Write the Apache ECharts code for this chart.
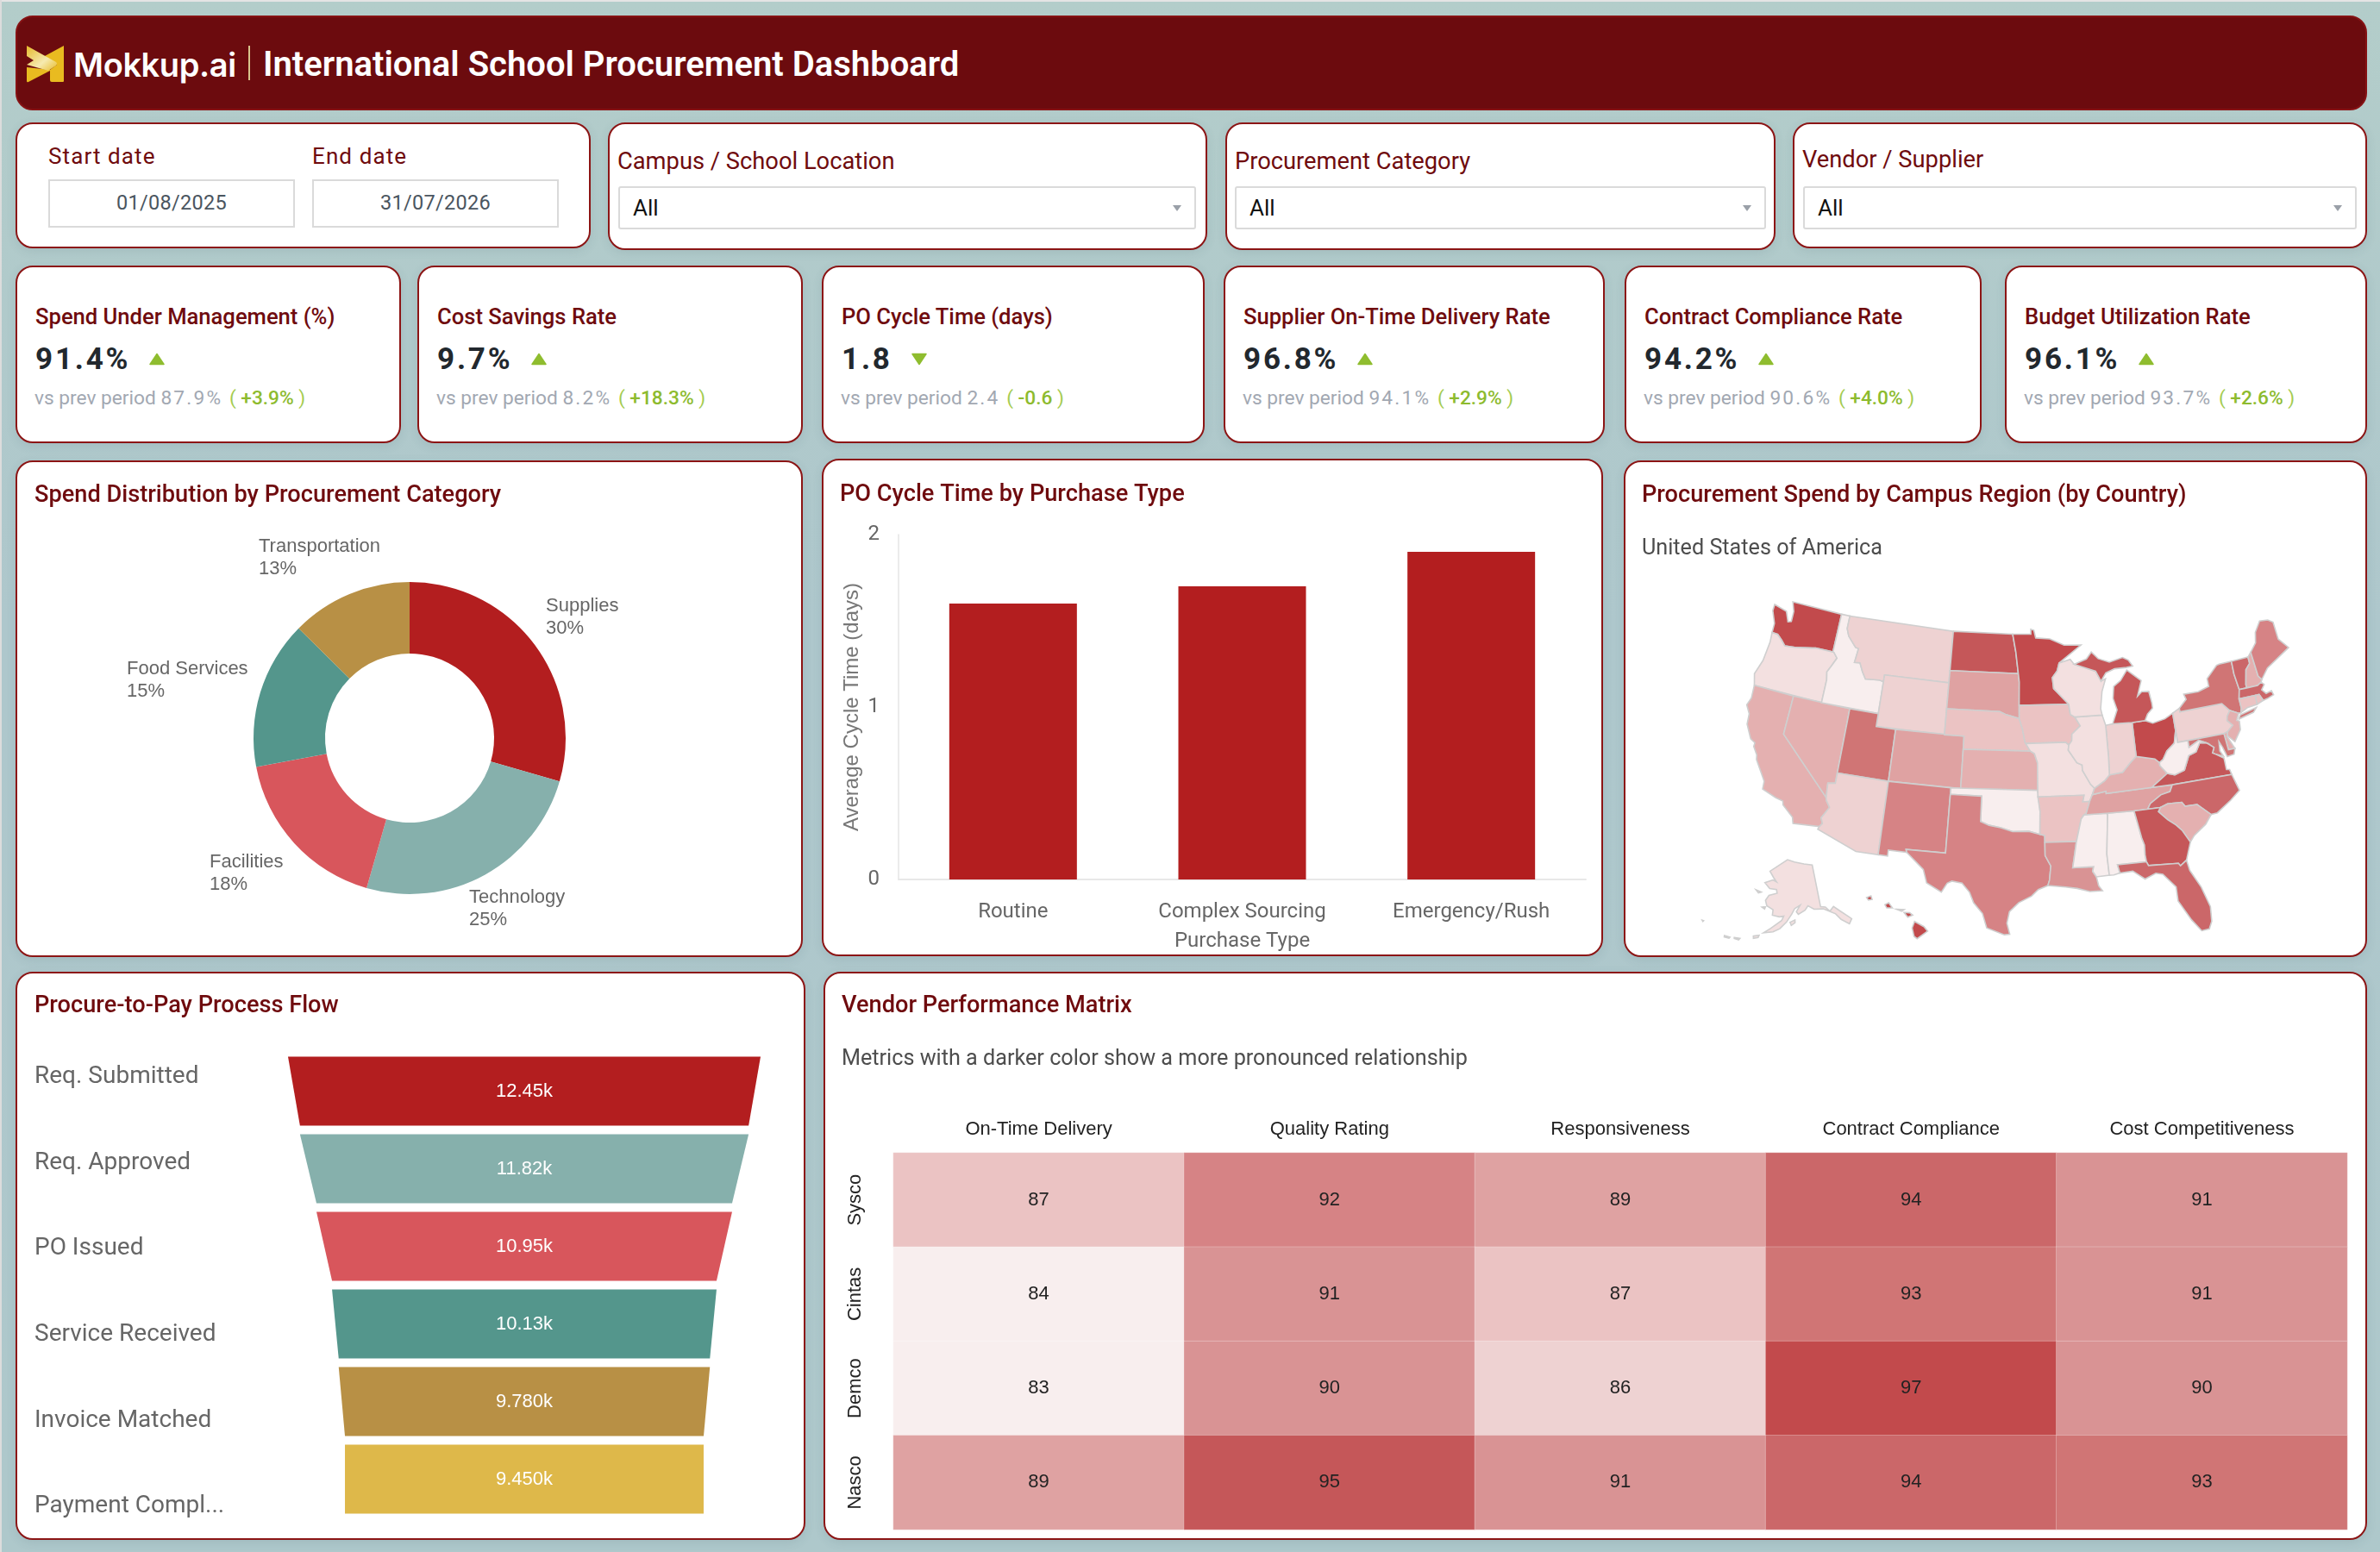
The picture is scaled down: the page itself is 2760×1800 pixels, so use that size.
<!DOCTYPE html>
<html lang="en">
<head>
<meta charset="UTF-8">
<title>International School Procurement Dashboard</title>
<script src="https://cdn.jsdelivr.net/npm/echarts@6/dist/echarts.min.js"></script>
<style>
    html, body { margin: 0; padding: 0; width: 2760px; height: 1800px; overflow: hidden; }
    body { background: linear-gradient(180deg, #b3cdca 0%, #aec7cc 40%, #aec8cb 100%); font-family: Roboto, sans-serif; position: relative; }
    .edge-top { position: absolute; left: 0; top: 0; width: 2760px; height: 2px; background: #e4e4e4; }
    .edge-left { position: absolute; left: 0; top: 0; width: 2px; height: 1800px; background: #dcdcdc; }
    .card { position: absolute; box-sizing: border-box; background: #fff; border: 2.5px solid #8c1515; border-radius: 20px; box-shadow: 0 3px 12px rgba(60, 90, 100, .12); }
    .header { position: absolute; left: 18px; top: 18px; width: 2727px; height: 110px; box-sizing: border-box; background: #6c0b0e; border: 2px solid #861214; border-radius: 20px; }
    .header svg { position: absolute; left: 10px; top: 32px; }
    .brand { position: absolute; left: 65px; top: 31px; font: 600 38px/48px Inter, sans-serif; color: #fff; letter-spacing: -.4px; }
    .divider { position: absolute; left: 268px; top: 33px; width: 2px; height: 40px; background: #d8c48c; }
    .headline { position: absolute; left: 285px; top: 31px; font: 600 40px/48px Roboto, sans-serif; color: #fff; white-space: nowrap; }
    .flabel { position: absolute; color: #6f0b0e; white-space: nowrap; }
    .datebox { position: absolute; box-sizing: border-box; border: 2.5px solid #dadada; top: 208px; width: 286px; height: 56px; text-align: center; font-size: 23.5px; line-height: 51px; color: #4a5560; letter-spacing: .3px; }
    .select { position: absolute; box-sizing: border-box; top: 216px; height: 50px; border: 2px solid #dadada; border-radius: 3px; font-size: 26px; line-height: 46px; padding-left: 15px; color: #111; }
    .select i { position: absolute; right: 15px; top: 20px; width: 0; height: 0; border-left: 5px solid transparent; border-right: 5px solid transparent; border-top: 7px solid #9aa0a8; }
    .kpi-title { position: absolute; top: 42px; font: 500 25.6px/30px Roboto, sans-serif; color: #6f0b0e; white-space: nowrap; }
    .kpi-value { position: absolute; top: 87px; font: 700 35px/40px Roboto, sans-serif; color: #22282e; letter-spacing: 2.8px; white-space: nowrap; }
    .kpi-value svg { margin-left: 22px; vertical-align: 4px; }
    .kpi-prev { position: absolute; top: 137px; font: 400 22.7px/30px Roboto, sans-serif; color: #a2a8b2; white-space: nowrap; }
    .kpi-prev b { font-weight: 400; letter-spacing: 2.2px; }
    .kpi-prev em { font-style: normal; color: #a5cc52; margin-left: 2px; }
    .kpi-prev u { text-decoration: none; color: #8dbb2e; font-weight: 500; }
    #dashboard { position: absolute; left: 0; top: 0; width: 2760px; height: 1800px; }
</style>
</head>
<body>
    <div class="edge-top"></div>
    <div class="edge-left"></div>

    <div class="header">
        <svg width="46" height="44" viewBox="0 0 46 44">
            <defs><linearGradient id="ribbon" x1="0" y1="0" x2="1" y2="1"><stop offset="0" stop-color="#e6b92a"/><stop offset=".6" stop-color="#f6eab0"/><stop offset="1" stop-color="#e8bc2b"/></linearGradient></defs>
            <path d="M44 1 V42 Q44 43 43 43 H30 Q28 43 28 41 V29 L36 23 L20 14 Z" fill="#e9bb20"/>
            <path d="M1 26 L28 29 V30 L3 43 Q1 44 1 42 Z" fill="#e9bb20"/>
            <path d="M1 1 L35 20 Q37 22 35 24 L26 30 L1 23 L9 18 L1 13 Z" fill="url(#ribbon)"/>
        </svg>
        <div class="brand">Mokkup.ai</div>
        <div class="divider"></div>
        <div class="headline">International School Procurement Dashboard</div>
    </div>

    <div class="card" style="left:18px;top:142px;width:667px;height:146px"></div>
    <div class="flabel" style="left:56px;top:165px;font-size:26px;line-height:32px;letter-spacing:1.1px">Start date</div>
    <div class="flabel" style="left:362px;top:165px;font-size:26px;line-height:32px;letter-spacing:1.1px">End date</div>
    <div class="datebox" style="left:56px">01/08/2025</div>
    <div class="datebox" style="left:362px">31/07/2026</div>

    <div class="card" style="left:705px;top:142px;width:695px;height:148px"></div>
    <div class="flabel" style="left:716px;top:170px;font-size:27.3px;line-height:34px">Campus / School Location</div>
    <div class="select" style="left:717px;width:670px">All<i></i></div>

    <div class="card" style="left:1421px;top:142px;width:638px;height:148px"></div>
    <div class="flabel" style="left:1432px;top:170px;font-size:27.3px;line-height:34px">Procurement Category</div>
    <div class="select" style="left:1432px;width:616px">All<i></i></div>

    <div class="card" style="left:2079px;top:142px;width:666px;height:146px"></div>
    <div class="flabel" style="left:2090px;top:168px;font-size:27.3px;line-height:34px">Vendor / Supplier</div>
    <div class="select" style="left:2091px;width:642px">All<i></i></div>

    <div class="card" style="left:18px;top:534px;width:913px;height:576px"></div>
    <div class="card" style="left:953px;top:532px;width:906px;height:577px"></div>
    <div class="card" style="left:1883px;top:534px;width:862px;height:576px"></div>
    <div class="card" style="left:18px;top:1127px;width:916px;height:659px"></div>
    <div class="card" style="left:955px;top:1127px;width:1790px;height:659px"></div>

    <div id="dashboard"></div>

    <script>
        // kpi cards
        var kpiTitles = ['Spend Under Management (%)', 'Cost Savings Rate', 'PO Cycle Time (days)', 'Supplier On-Time Delivery Rate', 'Contract Compliance Rate', 'Budget Utilization Rate'];
        var kpiValues = ['91.4%', '9.7%', '1.8', '96.8%', '94.2%', '96.1%'];
        var kpiPrev = ['87.9%', '8.2%', '2.4', '94.1%', '90.6%', '93.7%'];
        var kpiDelta = ['+3.9%', '+18.3%', '-0.6', '+2.9%', '+4.0%', '+2.6%'];

        // charts
        var spendCategories = ['Supplies', 'Technology', 'Facilities', 'Food Services', 'Transportation'];
        var spendShares = [29.5, 25, 17.6, 15.4, 12.6];
        var purchaseTypes = ['Routine', 'Complex Sourcing', 'Emergency/Rush'];
        var cycleDays = [1.6, 1.7, 1.9];
        var flowStages = ['Req. Submitted', 'Req. Approved', 'PO Issued', 'Service Received', 'Invoice Matched', 'Payment Completed'];
        var flowCounts = [12450, 11820, 10950, 10130, 9780, 9450];
        var vendors = ['Sysco', 'Cintas', 'Demco', 'Nasco'];
        var metrics = ['On-Time Delivery', 'Quality Rating', 'Responsiveness', 'Contract Compliance', 'Cost Competitiveness'];
        var syscoScores = [87, 92, 89, 94, 91];
        var cintasScores = [84, 91, 87, 93, 91];
        var demcoScores = [83, 90, 86, 97, 90];
        var nascoScores = [89, 95, 91, 94, 93];
        var stateNames = ['WA','OR','CA','NV','ID','MT','WY','UT','CO','AZ','NM','ND','SD','NE','KS','OK','TX','MN','IA','MO','AR','LA','MS','AL','TN','KY','OH','IN','IL','WI','MI','PA','NY','VT','NH','ME','MA','RI','CT','NJ','DE','MD','VA','WV','NC','SC','GA','FL','AK','HI'];
        var stateScores = [97,85,88,88,83,86,86,93,89,86,92,95,89,87,88,83,92,97,87,85,87,91,84,83,89,88,97,86,85,85,95,86,93,94,88,92,94,87,87,88,88,93,95,83,94,88,95,94,85,97];

        // simplified state outlines, lon/lat
        var stateOutlines = {
            WA: [[[-124.7,48.4],[-123.2,48.15],[-122.7,47.4],[-122.35,47.5],[-122.4,48.3],[-122.8,49],[-117.03,49],[-117.04,46],[-118.98,46],[-119.3,45.93],[-121.2,45.65],[-122.3,45.55],[-122.8,45.9],[-123.4,46.25],[-124.05,46.27],[-124.1,47],[-124.7,47.9]]],
            OR: [[[-124.05,46.27],[-123.4,46.25],[-122.8,45.9],[-122.3,45.55],[-121.2,45.65],[-119.3,45.93],[-118.98,46],[-117.04,46],[-116.92,45.99],[-116.46,45.6],[-116.85,44.95],[-117.2,44.4],[-117.03,43.8],[-117.03,42],[-124.2,42],[-124.55,42.85],[-124.1,44],[-123.95,45.5]]],
            CA: [[[-124.2,42],[-120,42],[-120,39],[-114.63,35],[-114.57,34.8],[-114.14,34.3],[-114.72,33.4],[-114.5,33],[-114.72,32.72],[-117.12,32.53],[-117.3,33],[-118.4,33.75],[-118.5,34.03],[-119.2,34.15],[-120.6,34.55],[-120.65,35.15],[-121.9,36.6],[-122,36.95],[-122.5,37.5],[-122.5,37.8],[-123,38],[-123.75,39],[-123.85,39.8],[-124.35,40.4],[-124.1,41]]],
            NV: [[[-120,42],[-114.04,42],[-114.04,36.2],[-114.74,36.1],[-114.63,35],[-120,39]]],
            ID: [[[-117.03,49],[-116.05,49],[-116.05,48],[-115.7,47.45],[-114.7,46.7],[-114.35,46.65],[-114.5,45.55],[-113.9,45.6],[-113.45,44.95],[-113,44.45],[-111.5,44.55],[-111.05,44.48],[-111.05,42],[-117.03,42],[-117.03,43.8],[-117.2,44.4],[-116.85,44.95],[-116.46,45.6],[-116.92,45.99],[-117.04,46]]],
            MT: [[[-116.05,49],[-104.05,49],[-104.05,45],[-111.05,45],[-111.05,44.48],[-111.5,44.55],[-113,44.45],[-113.45,44.95],[-113.9,45.6],[-114.5,45.55],[-114.35,46.65],[-114.7,46.7],[-115.7,47.45],[-116.05,48]]],
            WY: [[[-111.05,45],[-104.05,45],[-104.05,41],[-111.05,41]]],
            UT: [[[-114.04,42],[-111.05,42],[-111.05,41],[-109.05,41],[-109.05,37],[-114.04,37]]],
            CO: [[[-109.05,41],[-102.05,41],[-102.05,37],[-109.05,37]]],
            AZ: [[[-114.04,37],[-109.05,37],[-109.05,31.33],[-111.07,31.33],[-114.81,32.5],[-114.72,32.72],[-114.5,33],[-114.72,33.4],[-114.14,34.3],[-114.57,34.8],[-114.63,35],[-114.74,36.1],[-114.04,36.2]]],
            NM: [[[-109.05,37],[-103,37],[-103.04,32],[-106.62,32],[-106.53,31.78],[-108.2,31.78],[-108.2,31.33],[-109.05,31.33]]],
            ND: [[[-104.05,49],[-97.23,49],[-96.85,47.6],[-96.56,45.94],[-104.05,45.94]]],
            SD: [[[-104.05,45.94],[-96.56,45.94],[-96.45,45.3],[-96.45,43.5],[-96.44,42.49],[-97.9,42.8],[-98.5,43],[-104.05,43]]],
            NE: [[[-104.05,43],[-98.5,43],[-97.9,42.8],[-96.44,42.49],[-96.1,41.7],[-95.85,40.7],[-95.31,40],[-102.05,40],[-102.05,41],[-104.05,41]]],
            KS: [[[-102.05,40],[-95.31,40],[-94.9,39.8],[-94.61,39.1],[-94.62,37],[-102.05,37]]],
            OK: [[[-103,37],[-94.62,37],[-94.43,35.4],[-94.48,33.64],[-95.5,33.88],[-97,33.85],[-98.1,34.13],[-99.2,34.3],[-100,34.56],[-100,36.5],[-103,36.5]]],
            TX: [[[-106.62,32],[-103.04,32],[-103,36.5],[-100,36.5],[-100,34.56],[-99.2,34.3],[-98.1,34.13],[-97,33.85],[-95.5,33.88],[-94.48,33.64],[-94.04,33.55],[-94.04,32],[-93.55,31.2],[-93.7,30.1],[-93.85,29.7],[-94.7,29.4],[-95.3,28.9],[-96.4,28.4],[-97.2,27.7],[-97.4,26.8],[-97.15,25.95],[-97.6,25.9],[-99.1,26.4],[-99.5,27.5],[-100.3,28.3],[-100.7,29.1],[-101.4,29.77],[-102.3,29.88],[-102.7,29.7],[-103.15,28.98],[-104.5,29.6],[-104.9,30.6],[-106.53,31.78]]],
            MN: [[[-97.23,49],[-95.15,49],[-95.15,49.38],[-94.8,49.3],[-94.6,48.7],[-93,48.6],[-91.4,48.07],[-89.5,48],[-92.05,46.7],[-92.3,46.1],[-92.85,45.6],[-92.75,44.75],[-91.22,43.5],[-96.45,43.5],[-96.45,45.3],[-96.56,45.94],[-96.85,47.6]]],
            IA: [[[-96.45,43.5],[-91.22,43.5],[-91.1,42.7],[-90.65,42.5],[-90.15,41.8],[-91.05,41.2],[-91.1,40.7],[-91.42,40.38],[-91.73,40.61],[-95.77,40.58],[-95.85,40.7],[-96.1,41.7],[-96.44,42.49]]],
            MO: [[[-95.77,40.58],[-91.73,40.61],[-91.42,40.38],[-91.5,40],[-90.7,39],[-90.2,38.8],[-90.2,38.4],[-89.5,37.3],[-89.15,36.98],[-89.4,36.5],[-89.7,36],[-90.37,36],[-90.2,36.5],[-94.62,36.5],[-94.62,37],[-94.61,39.1],[-94.9,39.8],[-95.31,40]]],
            AR: [[[-94.62,36.5],[-90.2,36.5],[-90.37,36],[-89.7,36],[-90.1,35.1],[-90.3,35],[-90.6,34.7],[-91.15,33],[-94.04,33.02],[-94.04,33.55],[-94.48,33.64],[-94.43,35.4]]],
            LA: [[[-94.04,33.02],[-91.15,33],[-91.6,31],[-89.73,31],[-89.85,30.65],[-89.55,30.2],[-89.4,29.5],[-89.1,29.1],[-90.2,29.1],[-91.3,29.4],[-92.3,29.55],[-93.85,29.7],[-93.7,30.1],[-93.55,31.2],[-94.04,32]]],
            MS: [[[-91.15,33],[-90.6,34.7],[-90.3,35],[-88.2,35],[-88.1,34.9],[-88.47,31.9],[-88.4,30.25],[-89.55,30.2],[-89.85,30.65],[-89.73,31],[-91.6,31]]],
            AL: [[[-88.2,35],[-85.6,34.98],[-85.18,32.87],[-85,32.3],[-85.05,31.55],[-85,31],[-87.6,31],[-87.45,30.35],[-88,30.25],[-88.4,30.25],[-88.47,31.9],[-88.1,34.9]]],
            TN: [[[-90.3,35],[-88.2,35],[-85.6,34.98],[-84.32,34.99],[-84,35.4],[-82.9,35.95],[-82,36.1],[-81.68,36.59],[-83.68,36.6],[-88.07,36.5],[-88.07,36.68],[-89.4,36.5],[-89.7,36],[-90.1,35.1]]],
            KY: [[[-89.4,36.5],[-88.07,36.68],[-88.07,36.5],[-83.68,36.6],[-82,37.5],[-82.6,38.17],[-82.6,38.4],[-83,38.73],[-84.8,39.1],[-85.4,38.7],[-86.3,38],[-87.6,37.9],[-88.1,37.5],[-89.15,36.98]]],
            OH: [[[-84.8,41.7],[-83.45,41.73],[-82.7,41.45],[-81.4,41.65],[-80.52,41.98],[-80.52,40.64],[-80.85,39.7],[-81.7,39.2],[-82.2,38.6],[-82.6,38.4],[-83,38.73],[-84.8,39.1]]],
            IN: [[[-87.53,41.7],[-86.8,41.76],[-84.8,41.7],[-84.8,39.1],[-85.4,38.7],[-86.3,38],[-87.6,37.9],[-87.53,39.3]]],
            IL: [[[-90.65,42.5],[-87.8,42.5],[-87.53,41.7],[-87.53,39.3],[-87.6,37.9],[-88.1,37.5],[-89.15,36.98],[-89.5,37.3],[-90.2,38.4],[-90.2,38.8],[-90.7,39],[-91.5,40],[-91.42,40.38],[-91.1,40.7],[-91.05,41.2],[-90.15,41.8]]],
            WI: [[[-92.05,46.7],[-90.8,46.95],[-90.4,46.55],[-88.1,45.9],[-87.6,45.1],[-87.1,45.25],[-87.6,44.3],[-87.9,43],[-87.8,42.5],[-90.65,42.5],[-91.1,42.7],[-91.22,43.5],[-92.75,44.75],[-92.85,45.6],[-92.3,46.1]]],
            MI: [[[-90.4,46.55],[-89,46.9],[-88.4,47.4],[-87.7,46.85],[-86.5,46.5],[-85,46.75],[-84.4,46.5],[-84,46],[-84.7,45.95],[-86,45.95],[-87,45.7],[-87.6,45.1],[-88.1,45.9]],
                [[-86.8,41.76],[-84.8,41.7],[-83.45,41.73],[-83.1,42.2],[-82.5,42.6],[-82.5,43],[-82.65,43.9],[-83.4,43.95],[-83.9,43.65],[-83.3,44.8],[-84.7,45.75],[-85.5,45],[-86.3,44.6],[-86.5,43.7],[-86.2,42.8]]],
            PA: [[[-80.52,41.98],[-79.76,42.27],[-79.76,42],[-75.35,42],[-74.7,41.35],[-75.1,40.95],[-75.2,40.65],[-74.75,40.2],[-75.4,39.8],[-75.8,39.72],[-80.52,39.72],[-80.52,40.64]]],
            NY: [[[-79.76,42],[-79.76,42.27],[-78.9,42.85],[-79.05,43.27],[-77.5,43.25],[-76.3,43.5],[-76.3,44.1],[-75,44.95],[-74.7,45],[-73.35,45],[-73.4,44],[-73.25,42.75],[-73.5,42.05],[-73.5,41.3],[-73.65,41],[-73.9,41],[-74.7,41.35],[-75.35,42]],
                [[-74,40.6],[-73.75,40.85],[-72,41.1],[-72.4,40.8],[-74,40.55]]],
            VT: [[[-73.35,45],[-71.5,45],[-71.5,44.5],[-72.05,44.1],[-72.45,43],[-72.46,42.73],[-73.25,42.75],[-73.4,44]]],
            NH: [[[-71.5,45],[-71.08,45.3],[-70.98,43.4],[-70.7,43.07],[-70.85,42.88],[-71.3,42.7],[-72.46,42.73],[-72.45,43],[-72.05,44.1],[-71.5,44.5]]],
            ME: [[[-71.08,45.3],[-70.3,45.9],[-70,46.7],[-69.2,47.45],[-68.3,47.35],[-67.8,47.07],[-67.8,45.7],[-67,44.85],[-68.5,44.3],[-69.8,43.8],[-70.7,43.07],[-70.98,43.4]]],
            MA: [[[-73.5,42.05],[-73.25,42.75],[-72.46,42.73],[-71.3,42.7],[-70.85,42.88],[-70.6,42.65],[-71,42.3],[-70.65,41.95],[-70.05,42.05],[-69.95,41.7],[-70.65,41.55],[-71.12,41.5],[-71.38,42.02],[-71.8,42.02]]],
            RI: [[[-71.8,42.02],[-71.38,42.02],[-71.12,41.5],[-71.85,41.32]]],
            CT: [[[-73.5,42.05],[-71.8,42.02],[-71.85,41.32],[-72.9,41.25],[-73.65,41],[-73.5,41.3]]],
            NJ: [[[-74.7,41.35],[-73.9,41],[-74.25,40.5],[-74,40.4],[-74.1,39.75],[-74.9,38.95],[-75.5,39.5],[-75.4,39.8],[-74.75,40.2],[-75.2,40.65],[-75.1,40.95]]],
            DE: [[[-75.8,39.72],[-75.4,39.8],[-75.55,39.45],[-75.05,38.45],[-75.7,38.45]]],
            MD: [[[-79.48,39.72],[-75.8,39.72],[-75.7,38.45],[-75.05,38.45],[-75.25,38.03],[-75.95,37.95],[-76.2,38.7],[-76.45,39.2],[-76.55,38.5],[-76.3,38.05],[-77,38.3],[-77.3,38.45],[-77.05,38.85],[-77.7,39.3],[-78.4,39.6],[-79.48,39.2]]],
            VA: [[[-83.68,36.6],[-81.68,36.59],[-75.9,36.55],[-76,36.95],[-76.3,37],[-76.3,37.9],[-77,38.3],[-77.3,38.45],[-77.05,38.85],[-77.7,39.3],[-78.35,39.4],[-78.87,38.77],[-79.65,38.58],[-80.3,37.55],[-81.3,37.3],[-82,37.5]]],
            WV: [[[-80.52,40.64],[-80.52,39.72],[-79.48,39.72],[-79.48,39.2],[-78.4,39.6],[-77.7,39.3],[-78.35,39.4],[-78.87,38.77],[-79.65,38.58],[-80.3,37.55],[-81.3,37.3],[-82,37.5],[-82.6,38.17],[-82.6,38.4],[-82.2,38.6],[-81.7,39.2],[-80.85,39.7]]],
            NC: [[[-84.32,34.99],[-83.1,35],[-82.4,35.2],[-81.05,35.15],[-80.8,34.82],[-79.67,34.8],[-78.55,33.86],[-77.95,33.9],[-76.5,34.65],[-75.5,35.25],[-75.9,36.55],[-81.68,36.59],[-82,36.1],[-82.9,35.95],[-84,35.4]]],
            SC: [[[-83.1,35],[-82.4,35.2],[-81.05,35.15],[-80.8,34.82],[-79.67,34.8],[-78.55,33.86],[-79.2,33.2],[-80.4,32.5],[-80.85,32.05],[-81.4,33],[-81.9,33.5],[-82.6,34],[-83.35,34.7]]],
            GA: [[[-85.6,34.98],[-84.32,34.99],[-83.1,35],[-83.35,34.7],[-82.6,34],[-81.9,33.5],[-81.4,33],[-80.85,32.05],[-81.45,30.72],[-82.05,30.36],[-82.2,30.57],[-84.86,30.7],[-85,31],[-85.05,31.55],[-85,32.3],[-85.18,32.87]]],
            FL: [[[-87.6,31],[-85,31],[-84.86,30.7],[-82.2,30.57],[-82.05,30.36],[-81.45,30.72],[-81.3,29.9],[-80.55,28.5],[-80.05,26.9],[-80.15,25.75],[-80.45,25.2],[-81.1,25.15],[-81.8,26.1],[-82.7,27.7],[-82.7,28.8],[-83.7,29.9],[-84.3,30.05],[-85.3,29.7],[-86.3,30.4],[-87.45,30.35]]],
            AK: [[[-141,69.65],[-141,60.3],[-139,60],[-137.5,58.9],[-135.5,59.7],[-133.5,58.4],[-130,55.9],[-131.5,55],[-134,56.5],[-135.5,58],[-138,59],[-140,59.7],[-144,60],[-146.5,60.9],[-148,60],[-151,59.2],[-151.8,59.8],[-150,61.2],[-152.5,60.5],[-153.8,59.3],[-156,57.5],[-158.5,56],[-161,55.2],[-164.5,54.7],[-162,55.9],[-158,57.8],[-157.2,58.8],[-159,58.6],[-162,58.8],[-162,60],[-165,60.7],[-166,61.8],[-164.8,63],[-161,63.7],[-161.5,64.5],[-165,64.5],[-168,65.6],[-164,66.5],[-162,66.2],[-163.8,67],[-166.5,68.3],[-163,69.5],[-156.5,71.3],[-152,70.8],[-146,70.2]],
                [[-154.5,57.5],[-152.5,58],[-152.5,57.4],[-154,56.8]],
                [[-167,60.2],[-165.5,60.4],[-165.7,59.9]],
                [[-171.5,63.6],[-168.8,63.4],[-170,63.1]],
                [[-168,53.6],[-166,54],[-166.2,53.5],[-167.8,53.1]],
                [[-174.5,52.2],[-172.5,52.4],[-172.8,52],[-174.4,52]],
                [[-178,51.9],[-176,52],[-176.2,51.7],[-177.9,51.6]],
                [[-187.5,52.95],[-187,53],[-187.1,52.8]]],
            HI: [[[-156.05,19.75],[-155.85,20.25],[-155.1,19.85],[-154.8,19.5],[-155.65,18.92],[-155.9,19.1]],
                [[-156.7,20.95],[-156.25,20.93],[-156,20.75],[-156.4,20.58]],
                [[-157.3,21.2],[-156.7,21.17],[-156.9,21.05]],
                [[-158.25,21.55],[-157.95,21.7],[-157.65,21.3],[-158.1,21.3]],
                [[-159.75,22.1],[-159.4,22.23],[-159.3,21.95],[-159.6,21.9]]]
        };

        // page furniture for the kpi row
        var kpiLefts = [18, 484, 953, 1419, 1884, 2325];
        var kpiWidths = [447, 447, 444, 442, 414, 420];
        var arrowUp = '<svg width="18" height="15" viewBox="0 0 18 15"><path d="M9 1.5 L17 13.5 H1 Z" fill="#8fbd2f" stroke="#8fbd2f" stroke-width="1.5" stroke-linejoin="round"/></svg>';
        var arrowDown = '<svg width="18" height="15" viewBox="0 0 18 15"><path d="M9 13.5 L17 1.5 H1 Z" fill="#8fbd2f" stroke="#8fbd2f" stroke-width="1.5" stroke-linejoin="round"/></svg>';
        kpiTitles.forEach(function (t, i) {
            var card = document.createElement('div');
            card.className = 'card';
            card.style.cssText = 'left:' + kpiLefts[i] + 'px;top:308px;width:' + kpiWidths[i] + 'px;height:206px';
            card.innerHTML = '<div class="kpi-title" style="left:21px">' + t + '</div>' +
                '<div class="kpi-value" style="left:21px">' + kpiValues[i] + (kpiDelta[i].charAt(0) === '-' ? arrowDown : arrowUp) + '</div>' +
                '<div class="kpi-prev" style="left:20px">vs prev period <b>' + kpiPrev[i] + '</b> <em>( <u>' + kpiDelta[i] + '</u> )</em></div>';
            document.body.insertBefore(card, document.getElementById('dashboard'));
        });

        // albers usa style composite, alaska and hawaii as insets
        function conic(rot, cLon, cLat, p0, p1) {
            var rad = Math.PI / 180;
            var s0 = Math.sin(p0 * rad);
            var n = (s0 + Math.sin(p1 * rad)) / 2;
            var c = 1 + s0 * (2 * n - s0);
            var r0 = Math.sqrt(c) / n;
            function raw(lon, lat) {
                var r = Math.sqrt(c - 2 * n * Math.sin(lat * rad)) / n;
                var a = lon * rad * n;
                return [r * Math.sin(a), r0 - r * Math.cos(a)];
            }
            var o = raw(cLon, cLat);
            return {
                fwd: function (lon, lat) { var p = raw(lon + rot, lat); return [p[0] - o[0], -(p[1] - o[1])]; },
                inv: function (x, y) {
                    var px = x + o[0], py = r0 - (o[1] - y);
                    var lam = Math.atan2(px, py) / n;
                    var phi = Math.asin((c - (px * px + py * py) * n * n) / (2 * n));
                    return [lam / rad - rot, phi / rad];
                }
            };
        }
        var lower48 = conic(96, -0.6, 38.7, 29.5, 45.5);
        var alaska = conic(154, -2, 58.5, 55, 65);
        var hawaii = conic(157, -3, 19.9, 8, 18);
        var usProjection = {
            project: function (pt) {
                var k = 1000, p;
                if (pt[1] >= 50 && pt[0] < -129) {
                    p = alaska.fwd(pt[0], pt[1]);
                    return [k * .35 * p[0] - .307 * k, k * .35 * p[1] + .201 * k];
                }
                if (pt[1] < 25 && pt[0] < -150) {
                    p = hawaii.fwd(pt[0], pt[1]);
                    return [k * p[0] - .205 * k, k * p[1] + .212 * k];
                }
                p = lower48.fwd(pt[0], pt[1]);
                return [k * p[0], k * p[1]];
            },
            unproject: function (pt) { return lower48.inv(pt[0] / 1000, pt[1] / 1000); }
        };
        echarts.registerMap('usa', {
            type: 'FeatureCollection',
            features: stateNames.map(function (s) {
                return { type: 'Feature', properties: { name: s }, geometry: { type: 'MultiPolygon', coordinates: stateOutlines[s].map(function (ring) { return [ring]; }) } };
            })
        });

        function chartTitle(text, left, top) {
            return { text: text, left: left, top: top, padding: 0, textStyle: { fontFamily: 'Roboto', fontWeight: 500, fontSize: 27.2, color: '#6f0b0e' } };
        }
        function chartNote(text, left, top) {
            return { text: text, left: left, top: top, padding: 0, textStyle: { fontFamily: 'Roboto', fontWeight: 400, fontSize: 25.2, color: '#4d4d4d' } };
        }

        var heatData = [];
        [syscoScores, cintasScores, demcoScores, nascoScores].forEach(function (row, r) {
            row.forEach(function (v, c) { heatData.push([c, r, v]); });
        });

        var spendColors = ['#b31e1f', '#86b0ac', '#d8565c', '#54968c', '#b89045'];
        var flowColors = ['#b31e1f', '#86b0ac', '#d8565c', '#54968c', '#b89045', '#deb84a'];
        var flowData = flowStages.map(function (s, i) {
            return { name: s, value: flowCounts[i], itemStyle: { color: flowColors[i] } };
        });
        // zero height closing piece keeps the last funnel step straight sided
        flowData.push({ name: 'end', value: flowCounts[flowCounts.length - 1], itemStyle: { opacity: 0, height: 0 }, label: { show: false } });

        var spendLabelSpots = [[633, 716], [544, 1054], [243, 1013], [147, 789], [300, 647]];
        // one colour stop per score, 83 to 97
        var scoreRamp = ['#f8eeee', '#f8eeee', '#f3e0e0', '#eed2d2', '#ebc3c3', '#e4b0b0', '#dfa2a2', '#d99394', '#d99394', '#d68385', '#d07575', '#cb6769', '#c55759', '#c35050', '#c24a4c'];

        var chart = echarts.init(document.getElementById('dashboard'));
        chart.setOption({
            animation: false,
            title: [
                chartTitle('Spend Distribution by Procurement Category', 40, 562),
                chartTitle('PO Cycle Time by Purchase Type', 974, 561),
                chartTitle('Procurement Spend by Campus Region (by Country)', 1904, 562),
                chartNote('United States of America', 1904, 624),
                chartTitle('Procure-to-Pay Process Flow', 40, 1154),
                chartTitle('Vendor Performance Matrix', 976, 1154),
                chartNote('Metrics with a darker color show a more pronounced relationship', 976, 1216)
            ],
            visualMap: {
                show: false, min: 83, max: 97, seriesIndex: [2, 4],
                inRange: { color: scoreRamp }
            },
            grid: [
                { left: 1042, top: 620, width: 797, height: 400 },
                { left: 1036, top: 1337, width: 1686, height: 437 },
                { left: 40, top: 1199, width: 10, height: 598 }
            ],
            xAxis: [
                {
                    gridIndex: 0, type: 'category', data: purchaseTypes,
                    name: 'Purchase Type', nameLocation: 'middle', nameGap: 60,
                    nameTextStyle: { fontFamily: 'Roboto', fontSize: 24, color: '#666' },
                    axisLine: { lineStyle: { color: '#e8e8e8', width: 2 } },
                    axisTick: { show: false },
                    axisLabel: { fontFamily: 'Roboto', fontSize: 24, color: '#666', margin: 26 }
                },
                {
                    gridIndex: 1, type: 'category', data: metrics, position: 'top',
                    axisLine: { show: false }, axisTick: { show: false }, splitArea: { show: false },
                    axisLabel: { fontFamily: 'Liberation Sans', fontSize: 22, color: '#222', margin: 16 }
                },
                { gridIndex: 2, type: 'value', show: false }
            ],
            yAxis: [
                {
                    gridIndex: 0, type: 'value', min: 0, max: 2, interval: 1,
                    name: 'Average Cycle Time (days)', nameLocation: 'middle', nameGap: 42,
                    nameTextStyle: { fontFamily: 'Liberation Sans', fontSize: 24, color: '#777' },
                    splitLine: { show: false },
                    axisLine: { show: true, lineStyle: { color: '#e4e4e4', width: 1.5 } },
                    axisTick: { show: false },
                    axisLabel: { fontFamily: 'Roboto', fontSize: 24, color: '#666', margin: 22 }
                },
                {
                    gridIndex: 1, type: 'category', data: vendors, inverse: true,
                    axisLine: { show: false }, axisTick: { show: false }, splitArea: { show: false },
                    axisLabel: { fontFamily: 'Liberation Sans', fontSize: 22, color: '#222', rotate: 90, margin: 33 }
                },
                {
                    gridIndex: 2, type: 'category', data: flowStages, inverse: true,
                    axisLine: { show: false }, axisTick: { show: false },
                    axisLabel: {
                        fontFamily: 'Roboto', fontSize: 28, color: '#666', align: 'left', margin: 0,
                        width: 228, overflow: 'truncate', ellipsis: '...'
                    }
                }
            ],
            series: [
                {
                    type: 'pie', center: [475, 856], radius: [98, 181], startAngle: 90, silent: true,
                    data: spendCategories.map(function (c, i) {
                        return { name: c, value: spendShares[i], itemStyle: { color: spendColors[i] } };
                    }),
                    labelLine: { show: false },
                    label: {
                        fontFamily: 'Liberation Sans', fontSize: 22, lineHeight: 26, color: '#666', align: 'left',
                        formatter: function (p) { return p.name + '\n' + Math.round(p.value) + '%'; }
                    },
                    labelLayout: function (p) {
                        var s = spendLabelSpots[p.dataIndex];
                        return { x: s[0], y: s[1], align: 'left', verticalAlign: 'middle' };
                    }
                },
                {
                    type: 'bar', xAxisIndex: 0, yAxisIndex: 0, data: cycleDays, barWidth: 148, silent: true,
                    itemStyle: { color: '#b31e1f' }
                },
                {
                    type: 'map', map: 'usa', projection: usProjection, silent: true,
                    left: 1974, top: 698, width: 680, height: 392,
                    data: stateNames.map(function (s, i) { return { name: s, value: stateScores[i] }; }),
                    label: { show: false },
                    itemStyle: { borderColor: '#cfcfcf', borderWidth: 1.6, areaColor: '#f3e0e0' }
                },
                {
                    type: 'funnel', left: 334, top: 1225.5, width: 548, height: 530, min: 0, max: 12450,
                    minSize: 0, maxSize: 548, gap: 10, sort: 'none', silent: true,
                    data: flowData,
                    itemStyle: { borderWidth: 0, height: 80 },
                    labelLine: { show: false },
                    label: {
                        position: 'inside', fontFamily: 'Liberation Sans', fontSize: 22, color: '#fff',
                        formatter: function (p) { return (p.value / 1000).toPrecision(4) + 'k'; }
                    }
                },
                {
                    type: 'heatmap', xAxisIndex: 1, yAxisIndex: 1, data: heatData, silent: true,
                    itemStyle: { borderColor: 'rgba(255,255,255,.25)', borderWidth: 1 },
                    label: { show: true, fontFamily: 'Liberation Sans', fontSize: 22, color: '#222' }
                }
            ]
        });
    </script>
</body>
</html>
